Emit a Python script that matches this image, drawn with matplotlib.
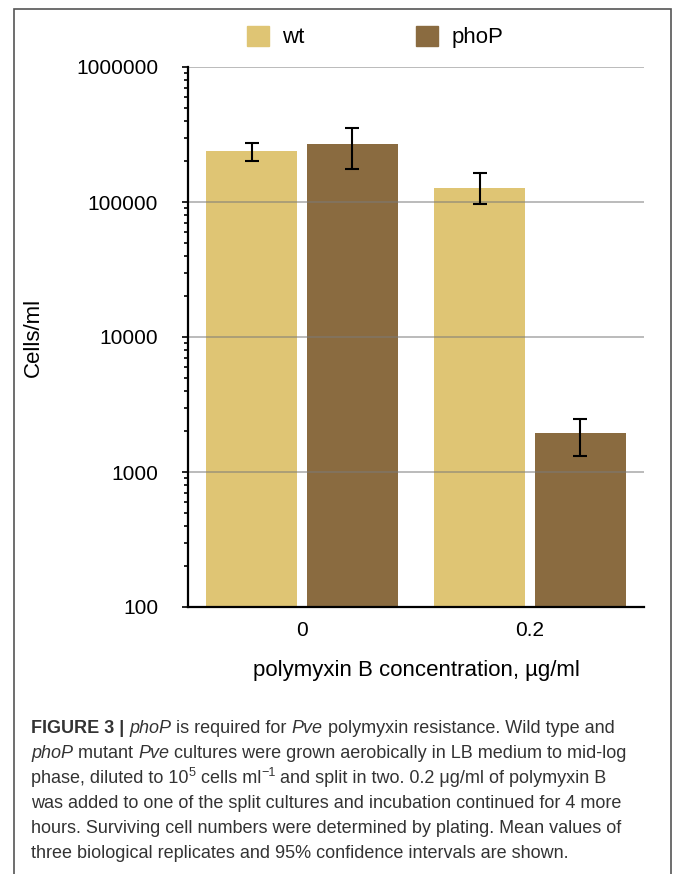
import numpy as np
import matplotlib.pyplot as plt
from matplotlib.patches import Patch, Rectangle

plt.rcParams["font.family"] = ["Liberation Sans", "DejaVu Sans"]

# ── Datos (células/ml, media y IC 95 %) ─────────────────────────────────────
concentrations = ["0", "0.2"]
wt_mean = [239000, 126000]
wt_ci_low = [202000, 96000]
wt_ci_high = [275000, 163000]
phop_mean = [267000, 1935]
phop_ci_low = [175000, 1314]
phop_ci_high = [356000, 2470]

WT_COLOR = "#dfc574"
PHOP_COLOR = "#8a6b40"

W, H = 673, 874
fig = plt.figure(figsize=(W / 100, H / 100), dpi=100, facecolor="white")

# marco del panel
fig.patches.append(Rectangle((14 / W, -0.05), (671 - 14) / W, 1.05 - 9 / H,
                             transform=fig.transFigure, fill=False,
                             ec="#555555", lw=1.2, clip_on=False))

ax = fig.add_axes([188 / W, 1 - 607 / H, (644 - 188) / W, (607 - 67) / H])

x = np.arange(len(concentrations))
bw, off = 0.40, 0.22


def yerr(mean, lo, hi):
    mean, lo, hi = map(np.asarray, (mean, lo, hi))
    return np.vstack([mean - lo, hi - mean])


err_kw = dict(ecolor="black", elinewidth=1.5, capsize=5, capthick=1.5, zorder=5)
ax.bar(x - off, wt_mean, bw, color=WT_COLOR, zorder=1,
       yerr=yerr(wt_mean, wt_ci_low, wt_ci_high), error_kw=err_kw)
ax.bar(x + off, phop_mean, bw, color=PHOP_COLOR, zorder=1,
       yerr=yerr(phop_mean, phop_ci_low, phop_ci_high), error_kw=err_kw)

ax.set_yscale("log")
ax.set_ylim(100, 1e6)
ax.set_xlim(-0.5, 1.5)

# líneas de referencia encima de las barras
for yv in [1e3, 1e4, 1e5, 1e6]:
    ax.axhline(yv, color="#7a7a7a", lw=1.3, alpha=0.55, zorder=3)

ax.set_yticks([100, 1000, 10000, 100000, 1000000])
ax.set_yticklabels(["100", "1000", "10000", "100000", "1000000"])
ax.set_xticks(x)
ax.set_xticklabels(concentrations)
ax.tick_params(axis="y", which="major", length=4.5, width=1.2, pad=17,
               labelsize=15)
ax.tick_params(axis="y", which="minor", length=3, width=1.2)
ax.tick_params(axis="x", length=0, pad=10, labelsize=15)

for s in ["top", "right"]:
    ax.spines[s].set_visible(False)
for s in ["left", "bottom"]:
    ax.spines[s].set_linewidth(1.6)
    ax.spines[s].set_zorder(4)

ax.set_ylabel("Cells/ml", fontsize=16)
ax.yaxis.set_label_coords(-0.316, 0.5)
ax.set_xlabel("polymyxin B concentration, µg/ml", fontsize=16)
ax.xaxis.set_label_coords(0.5, -0.117)
ax.xaxis.label.set_va("center")

handles = [Patch(color=WT_COLOR, label="wt"), Patch(color=PHOP_COLOR, label="phoP")]
fig.legend(handles=handles, loc="center", bbox_to_anchor=(0.557, 1 - 37 / H),
           ncol=2, frameon=False, fontsize=16, handlelength=1.0,
           handleheight=1.0, handletextpad=0.6, columnspacing=5.0)

# ── Pie de figura con estilos mezclados ─────────────────────────────────────
CAP_SIZE = 13
CAP_COLOR = "#333333"
caption = [
    [("FIGURE 3 | ", "bold"), ("phoP", "italic"), (" is required for ", ""),
     ("Pve", "italic"), (" polymyxin resistance. Wild type and", "")],
    [("phoP", "italic"), (" mutant ", ""), ("Pve", "italic"),
     (" cultures were grown aerobically in LB medium to mid-log", "")],
    [("phase, diluted to 10", ""), ("5", "sup"), (" cells ml", ""), ("\u22121", "sup"),
     (" and split in two. 0.2 \u03bcg/ml of polymyxin B", "")],
    [("was added to one of the split cultures and incubation continued for 4 more", "")],
    [("hours. Surviving cell numbers were determined by plating. Mean values of", "")],
    [("three biological replicates and 95% confidence intervals are shown.", "")],
]

renderer = fig.canvas.get_renderer()
x0, y0, dy = 31, 733, 25
for i, line in enumerate(caption):
    xp = x0
    yp = y0 + i * dy
    for txt, style in line:
        kw = dict(fontsize=CAP_SIZE, color=CAP_COLOR, va="baseline", ha="left")
        yy = yp
        if style == "bold":
            kw["fontweight"] = "bold"
        elif style == "italic":
            kw["fontstyle"] = "italic"
        elif style == "sup":
            kw["fontsize"] = CAP_SIZE * 0.7
            yy = yp - 7
        t = fig.text(xp / W, 1 - yy / H, txt, **kw)
        xp += t.get_window_extent(renderer).width

fig.savefig("out.png", dpi=100)
